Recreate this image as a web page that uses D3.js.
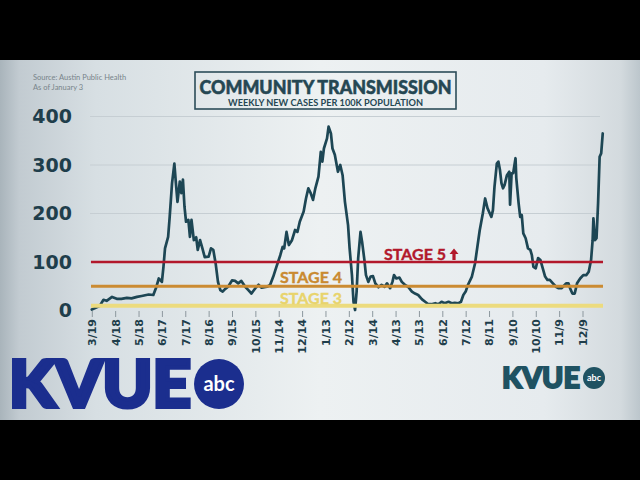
<!DOCTYPE html>
<html><head><meta charset="utf-8">
<script src="https://cdn.jsdelivr.net/npm/d3@7"></script>
<style>html,body{margin:0;padding:0;background:#000;}svg{display:block}</style>
</head><body>
<svg id="c" width="640" height="480"></svg>
<script>
// ---- data (days since 2020-03-19, weekly new cases per 100K) ----
const startDate = "2020-03-19";
const days = [
  0,10,15,19,26,32,38,45,51,58,
  64,73,79,83,86,90,92,94,98,100,
  103,106,108,110,113,115,117,119,121,124,
  126,128,131,134,136,139,142,145,150,153,
  156,159,162,165,168,171,175,180,184,188,
  192,197,201,205,210,214,218,225,229,233,
  237,242,245,247,250,253,257,261,264,267,
  272,275,278,281,284,287,291,294,296,298,
  302,304,307,309,312,316,319,322,325,329,
  331,334,336,338,340,342,345,347,350,352,
  355,358,361,364,368,372,376,379,383,386,
  388,391,395,398,402,406,411,415,419,424,
  428,432,436,441,445,449,453,458,462,466,
  471,474,477,480,483,488,492,495,498,502,
  505,508,511,513,515,517,520,522,524,526,
  528,530,533,536,537,539,541,544,545,548,
  550,552,554,557,560,563,565,567,570,573,
  576,579,582,585,588,592,596,599,603,605,
  609,612,614,617,620,623,627,631,635,638,
  641,643,644,646,648,650,652,654,656
];
const cases = [
  2,9,22,20,28,24,24,26,25,28,
  30,33,32,49,66,59,90,128,152,193,
  262,303,262,224,266,242,270,214,183,187,
  152,187,145,151,125,145,128,110,111,128,
  125,97,59,42,39,44,49,62,61,56,
  61,49,42,35,46,53,47,49,53,70,
  90,114,131,128,162,135,145,166,162,183,
  204,231,252,242,228,252,276,327,307,334,
  355,379,365,334,321,286,300,279,224,176,
  128,73,18,1,39,108,162,142,104,73,
  59,70,71,56,48,53,49,56,46,59,
  73,66,68,59,53,49,39,35,32,23,
  18,13,13,15,13,18,15,18,15,16,
  15,18,32,39,53,70,97,131,165,200,
  231,211,200,193,207,255,303,307,290,262,
  252,259,279,286,218,283,283,314,273,221,
  193,197,159,149,128,125,114,90,87,108,
  104,87,70,63,63,56,49,46,46,49,
  56,56,46,35,35,56,66,73,73,80,
  104,145,190,145,149,221,317,324,365
];
const tickDates = ["2020-03-19","2020-04-18","2020-05-18","2020-06-17","2020-07-17","2020-08-16",
  "2020-09-15","2020-10-15","2020-11-14","2020-12-14","2021-01-13","2021-02-12","2021-03-14",
  "2021-04-13","2021-05-13","2021-06-12","2021-07-12","2021-08-11","2021-09-10","2021-10-10",
  "2021-11-09","2021-12-09"];
const tickLabels = ["3/19","4/18","5/18","6/17","7/17","8/16","9/15","10/15","11/14","12/14",
  "1/13","2/12","3/14","4/13","5/13","6/12","7/12","8/11","9/10","10/10","11/9","12/9"];
const yTicks = [0,100,200,300,400];
const gridValues = [100,200,300,400];
const stageNames = ["STAGE 3","STAGE 4","STAGE 5"];
const stageValues = [10,50,100];

const parse = d3.utcParse("%Y-%m-%d");
const start = parse(startDate);
const series = days.map((d,i)=>({date:d3.utcDay.offset(start,d), v:cases[i]}));

const svg = d3.select("#c");
const defs = svg.append("defs");
const bg = defs.append("linearGradient").attr("id","bg").attr("x1",0).attr("x2",1).attr("y1",0).attr("y2",0);
[[0,"#a9b4bb"],[0.03,"#c2cbd1"],[0.15,"#d7dfe3"],[0.5,"#edf1f2"],[0.85,"#e6ebee"],[0.97,"#d3dade"],[1,"#bcc6cc"]]
  .forEach(s=>bg.append("stop").attr("offset",s[0]).attr("stop-color",s[1]));

svg.append("rect").attr("x",0).attr("y",0).attr("width",640).attr("height",480).attr("fill","#000");
svg.append("rect").attr("x",0).attr("y",60).attr("width",640).attr("height",360).attr("fill","url(#bg)");

const x = d3.scaleUtc().domain([parse("2020-03-19"), parse("2021-12-09")]).range([91.8, 582.5]);
const y = d3.scaleLinear().domain([0,400]).range([310.5,116.5]);

const ink = "#1f3e4b";

// gridlines
svg.append("g").selectAll("line").data(gridValues).join("line")
  .attr("x1",90).attr("x2",600).attr("y1",d=>y(d)).attr("y2",d=>y(d))
  .attr("stroke","#c6ced3").attr("stroke-width",1);

// y axis
const ya = svg.append("g").attr("transform","translate(72,0)")
  .call(d3.axisLeft(y).tickValues(yTicks).tickSize(0).tickPadding(0));
ya.select(".domain").remove();
ya.selectAll("text").attr("fill",ink).style("font-family","DejaVu Sans").style("font-weight","bold").style("font-size","19px");

// x axis
const xa = svg.append("g").attr("transform","translate(0,311)")
  .call(d3.axisBottom(x).tickValues(tickDates.map(parse)).tickFormat((d,i)=>tickLabels[i]).tickSize(6));
xa.select(".domain").remove();
xa.selectAll("line").attr("stroke","#8d989e");
xa.selectAll("text").attr("fill",ink).style("font-family","DejaVu Sans").style("font-weight","bold").style("font-size","11px")
  .attr("transform","rotate(-90)").attr("x",-8).attr("y",0).attr("dy","0.35em").style("text-anchor","end");

// data line
svg.append("path").datum(series)
  .attr("d", d3.line().x(d=>x(d.date)).y(d=>y(d.v)))
  .attr("fill","none").attr("stroke","#1d4654").attr("stroke-width",2.7)
  .attr("stroke-linejoin","round").attr("stroke-linecap","round");

// stage lines
const stageColors = ["#ecdb7e","#cb8b32","#b2182b"];
const stageWidths = [4,2.8,2.4];
svg.append("g").selectAll("line").data(stageValues).join("line")
  .attr("x1",91).attr("x2",603).attr("y1",d=>y(d)).attr("y2",d=>y(d))
  .attr("stroke",(d,i)=>stageColors[i]).attr("stroke-width",(d,i)=>stageWidths[i]);

const labelColors = ["#e8d46c","#c98a30","#b2182b"];
const labelPos = [[280,304],[280,283.3],[384,260]];
stageNames.forEach((n,i)=>{
  const t = svg.append("text").attr("x",labelPos[i][0]).attr("y",labelPos[i][1])
    .attr("fill",labelColors[i]).attr("stroke",labelColors[i]).attr("stroke-width",0.4)
    .style("font-family","Lato").style("font-weight","bold").style("font-size","16px").text(n);
  if(i===2){
    const w = t.node().getComputedTextLength();
    const ax = labelPos[i][0]+w+8, by = labelPos[i][1];
    svg.append("path").attr("fill",labelColors[i])
      .attr("d",`M${ax-4.5},${by-6} L${ax},${by-11.5} L${ax+4.5},${by-6} L${ax+1.6},${by-6} L${ax+1.6},${by} L${ax-1.6},${by} L${ax-1.6},${by-6} Z`);
  }
});

// title box
svg.append("rect").attr("x",195).attr("y",72).attr("width",261).attr("height",37)
  .attr("fill","none").attr("stroke","#2c4d59").attr("stroke-width",1.6);
svg.append("text").attr("x",325.5).attr("y",93.5).attr("text-anchor","middle")
  .attr("textLength",252).attr("lengthAdjust","spacingAndGlyphs")
  .attr("fill","#254753").attr("stroke","#254753").attr("stroke-width",0.5)
  .style("font-family","Lato").style("font-weight","900").style("font-size","18px")
  .text("COMMUNITY TRANSMISSION");
svg.append("text").attr("x",325.5).attr("y",105.5).attr("text-anchor","middle")
  .attr("textLength",195).attr("lengthAdjust","spacingAndGlyphs")
  .attr("fill","#254753").style("font-family","Lato").style("font-weight","bold").style("font-size","8.5px")
  .text("WEEKLY NEW CASES PER 100K POPULATION");

// source
svg.append("text").attr("x",33).attr("y",80).attr("fill","#78848a")
  .style("font-family","Lato").style("font-size","7.5px").text("Source: Austin Public Health");
svg.append("text").attr("x",33).attr("y",90).attr("fill","#78848a")
  .style("font-family","Lato").style("font-size","7.5px").text("As of January 3");

// big logo
const blue = "#1b2e8e";
svg.append("text").attr("x",9).attr("y",407).attr("textLength",182).attr("lengthAdjust","spacingAndGlyphs")
  .attr("fill",blue).attr("stroke",blue).attr("stroke-width",4).attr("stroke-linejoin","miter")
  .style("font-family","Lato").style("font-weight","900").style("font-size","64px").text("KVUE");
svg.append("circle").attr("cx",219).attr("cy",384).attr("r",25).attr("fill",blue);
svg.append("text").attr("x",219).attr("y",391).attr("text-anchor","middle").attr("fill","#fff")
  .style("font-family","Lato").style("font-weight","bold").style("font-size","20px").text("abc");

// small logo
const teal = "#1f5262";
svg.append("text").attr("x",502).attr("y",387.5).attr("textLength",78).attr("lengthAdjust","spacingAndGlyphs")
  .attr("fill",teal).attr("stroke",teal).attr("stroke-width",1.8)
  .style("font-family","Lato").style("font-weight","900").style("font-size","28px").text("KVUE");
svg.append("circle").attr("cx",594).attr("cy",378).attr("r",11).attr("fill",teal);
svg.append("text").attr("x",594).attr("y",381).attr("text-anchor","middle").attr("fill","#fff")
  .style("font-family","Lato").style("font-weight","bold").style("font-size","9px").text("abc");
</script>
</body></html>
